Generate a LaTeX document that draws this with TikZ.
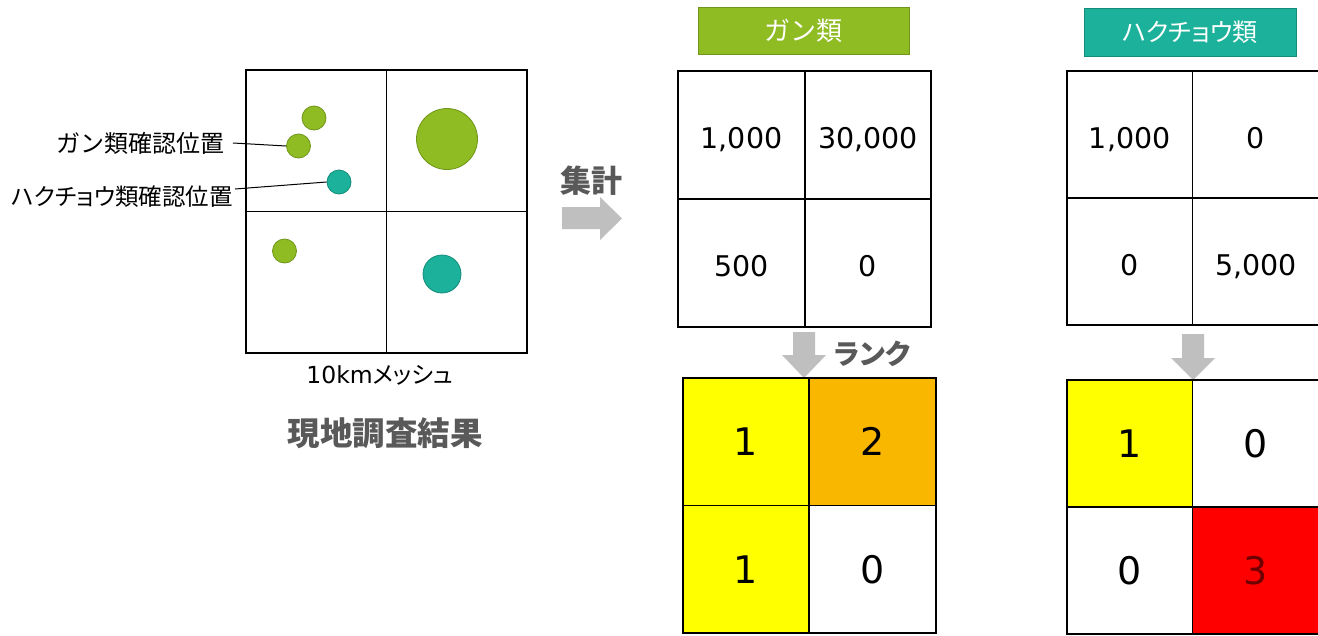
\documentclass[tikz,border=0pt]{standalone}
\usepackage{fontspec}
\setmainfont{DejaVu Sans}
\newfontfamily\cjk[RawFeature=+palt]{Noto Sans CJK JP}
\newfontfamily\cjkw{Noto Sans CJK JP}
\definecolor{ggreen}{RGB}{143,187,35}
\definecolor{ggreenD}{RGB}{112,150,25}
\definecolor{gteal}{RGB}{27,177,155}
\definecolor{gtealD}{RGB}{20,140,122}
\definecolor{ryellow}{RGB}{255,255,0}
\definecolor{rorange}{RGB}{249,183,0}
\definecolor{rred}{RGB}{255,0,0}
\definecolor{dred}{RGB}{110,0,0}
\definecolor{agray}{RGB}{191,191,191}
\definecolor{tgray}{RGB}{89,89,89}
\tikzset{
  cell/.style={draw, line width=1.6pt, inner sep=0pt, text height=27pt, text depth=0pt, font=\fontsize{28.5}{30}\selectfont},
  rcell/.style={draw, line width=1.6pt, inner sep=0pt, font=\fontsize{38}{40}\selectfont},
  gdot/.style={circle, fill=ggreen, draw=ggreenD, line width=0.8pt, inner sep=0pt},
  tdot/.style={circle, fill=gteal, draw=gtealD, line width=0.8pt, inner sep=0pt},
  lbl/.style={inner sep=0pt},
  btitle/.style={inner sep=0pt, text=tgray, font=\cjkw\bfseries\fontsize{31}{33}\selectfont},
  hdr/.style={inner sep=0pt, line width=0.8pt, text=white},
  blockarrow/.style={fill=agray, draw=none},
  meshline/.style={line width=1.8pt}
}
\begin{document}
\begin{tikzpicture}[x=1pt,y=-1pt]
\clip (0,0) rectangle (1318,635);
\fill[white] (0,0) rectangle (1318,635);

% mesh
\node[draw, meshline, minimum width=281pt, minimum height=283pt, inner sep=0pt] (mesh) at (386.5,211.5) {};
\draw[meshline] (mesh.north) -- (mesh.south);
\draw[meshline] (mesh.west) -- (mesh.east);
\node[gdot, minimum size=24pt] (g1) at (314,118) {};
\node[gdot, minimum size=24pt] (g2) at (298.5,146) {};
\node[tdot, minimum size=24pt] (t1) at (339,182) {};
\node[gdot, minimum size=61pt] (g3) at (447,139) {};
\node[gdot, minimum size=24pt] (g4) at (284.5,251) {};
\node[tdot, minimum size=38pt] (t2) at (442,274) {};

\node[lbl, anchor=east, font=\cjkw\fontsize{24}{26}\selectfont] (lg) at (225,143) {ガン類確認位置};
\node[lbl, anchor=east, font=\cjk\fontsize{23.5}{25}\selectfont] (lh) at (233,197) {ハクチョウ類確認位置};
\coordinate (lgE) at ([xshift=8pt]lg.east);
\coordinate (lhE) at ([shift={(2pt,8pt)}]lh.east);
\draw[line width=1pt] (lgE) -- (g2.west);
\draw[line width=1pt] (lhE) -- (t1.west);

\node[inner sep=0pt, font=\fontsize{23.5}{25}\selectfont] (meshlbl) at (380,375) {10km{\cjk\fontsize{23.5}{25}\selectfont メッシュ}};
\node[btitle, font=\cjkw\bfseries\fontsize{32.5}{34}\selectfont] (survey) at (385,433) {現地調査結果};

% aggregate arrow
\node[btitle] (agg) at (591,181) {集計};
\fill[blockarrow] (562,207) -- (600,207) -- (600,197) -- (622,218.5) -- (600,240) -- (600,229) -- (562,229) -- cycle;

% headers
\node[hdr, fill=ggreen, draw=ggreenD, minimum width=211pt, minimum height=47pt, font=\cjkw\fontsize{26}{28}\selectfont] (hg) at (803.5,30.5) {ガン類};
\node[hdr, fill=gteal, draw=gtealD, minimum width=212pt, minimum height=48pt, font=\cjk\fontsize{25}{27}\selectfont] (hh) at (1190,32) {ハクチョウ類};

% goose counts
\node[cell, minimum width=127pt, minimum height=128pt] (ga) at (741.5,135) {1,000};
\node[cell, minimum width=126pt, minimum height=128pt] (gb) at (868,135) {30,000};
\node[cell, minimum width=127pt, minimum height=128pt] (gc) at (741.5,263) {500};
\node[cell, minimum width=126pt, minimum height=128pt] (gd) at (868,263) {0};

% swan counts
\node[cell, minimum width=125.5pt, minimum height=127pt] (sa) at (1129.75,134.5) {1,000};
\node[cell, minimum width=127pt, minimum height=127pt] (sb) at (1256,134.5) {0};
\node[cell, minimum width=125.5pt, minimum height=127pt] (sc) at (1129.75,261.5) {0};
\node[cell, minimum width=127pt, minimum height=127pt] (sd) at (1256,261.5) {5,000};

% rank arrows
\fill[blockarrow] (793,332) -- (815,332) -- (815,355) -- (826,355) -- (804,378) -- (782,355) -- (793,355) -- cycle;
\node[btitle, font=\cjk\bfseries\fontsize{28}{30}\selectfont] (rank) at (872,354) {ランク};
\fill[blockarrow] (1182,334) -- (1204,334) -- (1204,358) -- (1215,358) -- (1193,380) -- (1171,358) -- (1182,358) -- cycle;

% goose ranks
\node[rcell, fill=ryellow, minimum width=126pt, minimum height=127.5pt] (gra) at (746,441.75) {1};
\node[rcell, fill=rorange, minimum width=127pt, minimum height=127.5pt] (grb) at (872.5,441.75) {2};
\node[rcell, fill=ryellow, minimum width=126pt, minimum height=127.5pt] (grc) at (746,569.25) {1};
\node[rcell, fill=white, minimum width=127pt, minimum height=127.5pt] (grd) at (872.5,569.25) {0};

% swan ranks
\node[rcell, fill=ryellow, minimum width=125.5pt, minimum height=127pt] (sra) at (1129.75,443.5) {1};
\node[rcell, fill=white, minimum width=127pt, minimum height=127pt] (srb) at (1256,443.5) {0};
\node[rcell, fill=white, minimum width=125.5pt, minimum height=127pt] (src) at (1129.75,570.5) {0};
\node[rcell, fill=rred, text=dred, minimum width=127pt, minimum height=127pt] (srd) at (1256,570.5) {3};
\end{tikzpicture}
\end{document}
